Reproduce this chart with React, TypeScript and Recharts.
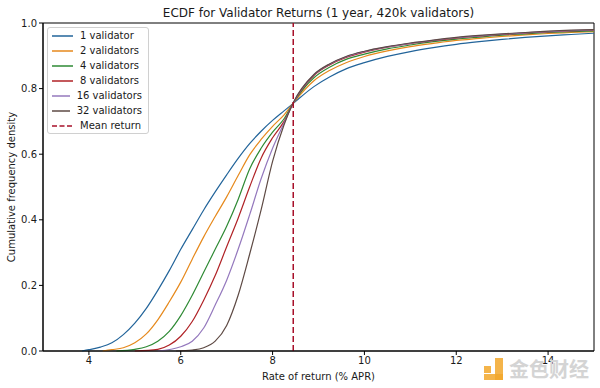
import React from 'react';
import { LineChart, Line, XAxis, YAxis, ReferenceLine, ReferenceArea, Legend } from 'recharts';

const xTicks = [4, 6, 8, 10, 12, 14];
const yTicks = [0, 0.2, 0.4, 0.6, 0.8, 1.0];
const meanReturn = 8.45;

const v1: [number, number][] = [
  [3.85, 0], [4.0, 0.004], [4.25, 0.012], [4.5, 0.025], [4.75, 0.05], [5.0, 0.085], [5.25, 0.13],
  [5.5, 0.185], [5.75, 0.245], [6.0, 0.31], [6.25, 0.37], [6.5, 0.43], [6.75, 0.485], [7.0, 0.537],
  [7.25, 0.587], [7.5, 0.632], [7.75, 0.67], [8.0, 0.703], [8.25, 0.732], [8.45, 0.755], [8.9, 0.806],
  [9.25, 0.836], [9.6, 0.86], [10.0, 0.879], [10.5, 0.898], [11.0, 0.913], [11.5, 0.925], [12.0, 0.935],
  [12.5, 0.943], [13.0, 0.95], [13.5, 0.956], [14.0, 0.961], [14.5, 0.965], [15.0, 0.969],
];
const v2: [number, number][] = [
  [4.3, 0], [4.5, 0.004], [4.75, 0.01], [5.0, 0.025], [5.25, 0.052], [5.5, 0.095], [5.75, 0.15],
  [6.0, 0.21], [6.25, 0.28], [6.5, 0.348], [6.75, 0.41], [7.0, 0.47], [7.25, 0.535], [7.5, 0.598],
  [7.75, 0.645], [8.0, 0.685], [8.25, 0.72], [8.45, 0.756], [8.9, 0.824], [9.25, 0.856], [9.6, 0.879],
  [10.0, 0.898], [10.5, 0.915], [11.0, 0.928], [11.5, 0.938], [12.0, 0.947], [12.5, 0.953], [13.0, 0.959],
  [13.5, 0.964], [14.0, 0.968], [14.5, 0.971], [15.0, 0.974],
];
const v4: [number, number][] = [
  [4.6, 0], [5.0, 0.005], [5.25, 0.013], [5.5, 0.03], [5.75, 0.06], [6.0, 0.108], [6.25, 0.17],
  [6.5, 0.24], [6.75, 0.31], [7.0, 0.38], [7.25, 0.462], [7.5, 0.555], [7.75, 0.618], [8.0, 0.667],
  [8.25, 0.708], [8.45, 0.756], [8.9, 0.833], [9.25, 0.866], [9.6, 0.889], [10.0, 0.905], [10.5, 0.921],
  [11.0, 0.933], [11.5, 0.943], [12.0, 0.951], [12.5, 0.957], [13.0, 0.963], [13.5, 0.967], [14.0, 0.971],
  [14.5, 0.974], [15.0, 0.976],
];
const v8: [number, number][] = [
  [5.0, 0], [5.5, 0.005], [5.75, 0.018], [6.0, 0.045], [6.25, 0.09], [6.5, 0.155], [6.75, 0.23],
  [7.0, 0.318], [7.25, 0.405], [7.5, 0.5], [7.75, 0.588], [8.0, 0.65], [8.25, 0.7], [8.45, 0.756],
  [8.9, 0.84], [9.25, 0.873], [9.6, 0.895], [10.0, 0.911], [10.5, 0.926], [11.0, 0.937], [11.5, 0.946],
  [12.0, 0.954], [12.5, 0.96], [13.0, 0.965], [13.5, 0.969], [14.0, 0.973], [14.5, 0.976], [15.0, 0.978],
];
const v16: [number, number][] = [
  [5.5, 0], [6.0, 0.013], [6.25, 0.03], [6.5, 0.07], [6.75, 0.14], [7.0, 0.216], [7.25, 0.31],
  [7.5, 0.415], [7.75, 0.525], [8.0, 0.618], [8.25, 0.695], [8.45, 0.756], [8.9, 0.842], [9.25, 0.875],
  [9.6, 0.897], [10.0, 0.913], [10.5, 0.927], [11.0, 0.938], [11.5, 0.947], [12.0, 0.955], [12.5, 0.961],
  [13.0, 0.966], [13.5, 0.97], [14.0, 0.974], [14.5, 0.977], [15.0, 0.979],
];
const v32: [number, number][] = [
  [5.9, 0], [6.25, 0.003], [6.5, 0.01], [6.75, 0.03], [7.0, 0.078], [7.25, 0.17], [7.5, 0.295],
  [7.75, 0.43], [8.0, 0.578], [8.25, 0.69], [8.45, 0.757], [8.9, 0.843], [9.25, 0.876], [9.6, 0.898],
  [10.0, 0.914], [10.5, 0.928], [11.0, 0.939], [11.5, 0.948], [12.0, 0.956], [12.5, 0.962], [13.0, 0.967],
  [13.5, 0.971], [14.0, 0.975], [14.5, 0.978], [15.0, 0.98],
];

const seriesNames = ['1 validator', '2 validators', '4 validators', '8 validators', '16 validators', '32 validators'];
const seriesData = [v1, v2, v4, v8, v16, v32];
const colors = ['#22649a', '#e6891c', '#2e8a34', '#b02226', '#9478bd', '#5e4a44'];
const meanColor = '#a8102a';
const meanLabel = 'Mean return';

const FONT = '"DejaVu Sans", Verdana, sans-serif';
const TEXT = '#1a1a1a';

const toObj = (arr: [number, number][]) => arr.map(([x, y]) => ({ x, y }));

const LegendBox = () => (
  <div
    style={{
      border: '1px solid #d0d0d0',
      borderRadius: 3,
      background: 'rgba(255,255,255,0.85)',
      padding: '0 6px 0 4px',
      fontFamily: FONT,
      fontSize: 10,
      color: TEXT,
      width: 90,
    }}
  >
    {seriesNames.map((n, i) => (
      <div key={n} style={{ display: 'flex', alignItems: 'center', height: 15 }}>
        <svg width={21} height={4} style={{ marginRight: 7 }}>
          <line x1={0} y1={2} x2={21} y2={2} stroke={colors[i]} strokeWidth={1.5} />
        </svg>
        <span style={{ whiteSpace: 'nowrap' }}>{n}</span>
      </div>
    ))}
    <div style={{ display: 'flex', alignItems: 'center', height: 15 }}>
      <svg width={21} height={4} style={{ marginRight: 7 }}>
        <line x1={0} y1={2} x2={21} y2={2} stroke={meanColor} strokeWidth={1.5} strokeDasharray="5 2.5" />
      </svg>
      <span style={{ whiteSpace: 'nowrap' }}>{meanLabel}</span>
    </div>
  </div>
);

export default function App() {
  const tickStyle = { fontFamily: FONT, fontSize: 10, fill: TEXT };
  return (
    <div style={{ position: 'absolute', left: 0, top: 0, width: 600, height: 388, background: '#fff' }}>
      <LineChart width={600} height={388} margin={{ top: 23, right: 6, bottom: 7, left: 8 }}>
        <XAxis
          dataKey="x"
          type="number"
          domain={[3, 15]}
          ticks={xTicks}
          allowDataOverflow
          height={30}
          tick={tickStyle}
          tickSize={4}
          tickMargin={2}
          tickLine={{ stroke: '#000' }}
          axisLine={{ stroke: '#000' }}
        />
        <YAxis
          type="number"
          domain={[0, 1]}
          ticks={yTicks}
          tickFormatter={(v: number) => v.toFixed(1)}
          width={35}
          tick={tickStyle}
          tickSize={4}
          tickMargin={2}
          tickLine={{ stroke: '#000' }}
          axisLine={{ stroke: '#000' }}
        />
        {seriesData.map((d, i) => (
          <Line
            key={seriesNames[i]}
            data={toObj(d)}
            dataKey="y"
            name={seriesNames[i]}
            type="monotone"
            stroke={colors[i]}
            strokeWidth={1.2}
            dot={false}
            isAnimationActive={false}
          />
        ))}
        <ReferenceLine x={meanReturn} stroke={meanColor} strokeWidth={1.5} strokeDasharray="6 3" />
        <ReferenceArea x1={3} x2={15} y1={0} y2={1} fill="none" stroke="#000" strokeWidth={1} />
        <Legend
          layout="vertical"
          align="center"
          verticalAlign="middle"
          content={() => <LegendBox />}
          wrapperStyle={{ position: 'absolute', left: 47, top: 27, width: 'auto', height: 'auto' }}
        />
        <text x={318.5} y={17} textAnchor="middle" fontFamily={FONT} fontSize={12} fill={TEXT}>
          ECDF for Validator Returns (1 year, 420k validators)
        </text>
        <text x={318.5} y={380} textAnchor="middle" fontFamily={FONT} fontSize={10} fill={TEXT}>
          Rate of return (% APR)
        </text>
        <text
          x={15}
          y={187}
          textAnchor="middle"
          fontFamily={FONT}
          fontSize={10}
          fill={TEXT}
          transform="rotate(-90 15 187)"
        >
          Cumulative frequency density
        </text>
      </LineChart>
      <div style={{ position: 'absolute', left: 484, top: 358, width: 22, height: 24 }}>
        <div style={{ position: 'absolute', left: 0, top: 8, width: 7, height: 7, background: '#f2a72a', opacity: 0.85 }} />
        <div style={{ position: 'absolute', left: 11, top: 0, width: 8, height: 22, background: '#f2a72a', opacity: 0.85 }} />
        <div style={{ position: 'absolute', left: 0, top: 16, width: 19, height: 6, background: '#f2a72a', opacity: 0.85 }} />
      </div>
      <div
        style={{
          position: 'absolute',
          left: 509,
          top: 356,
          fontFamily: '"Noto Sans CJK SC", sans-serif',
          fontSize: 20,
          fontWeight: 700,
          color: '#d4d4d4',
          lineHeight: '26px',
          whiteSpace: 'nowrap',
        }}
      >
        金色财经
      </div>
    </div>
  );
}
